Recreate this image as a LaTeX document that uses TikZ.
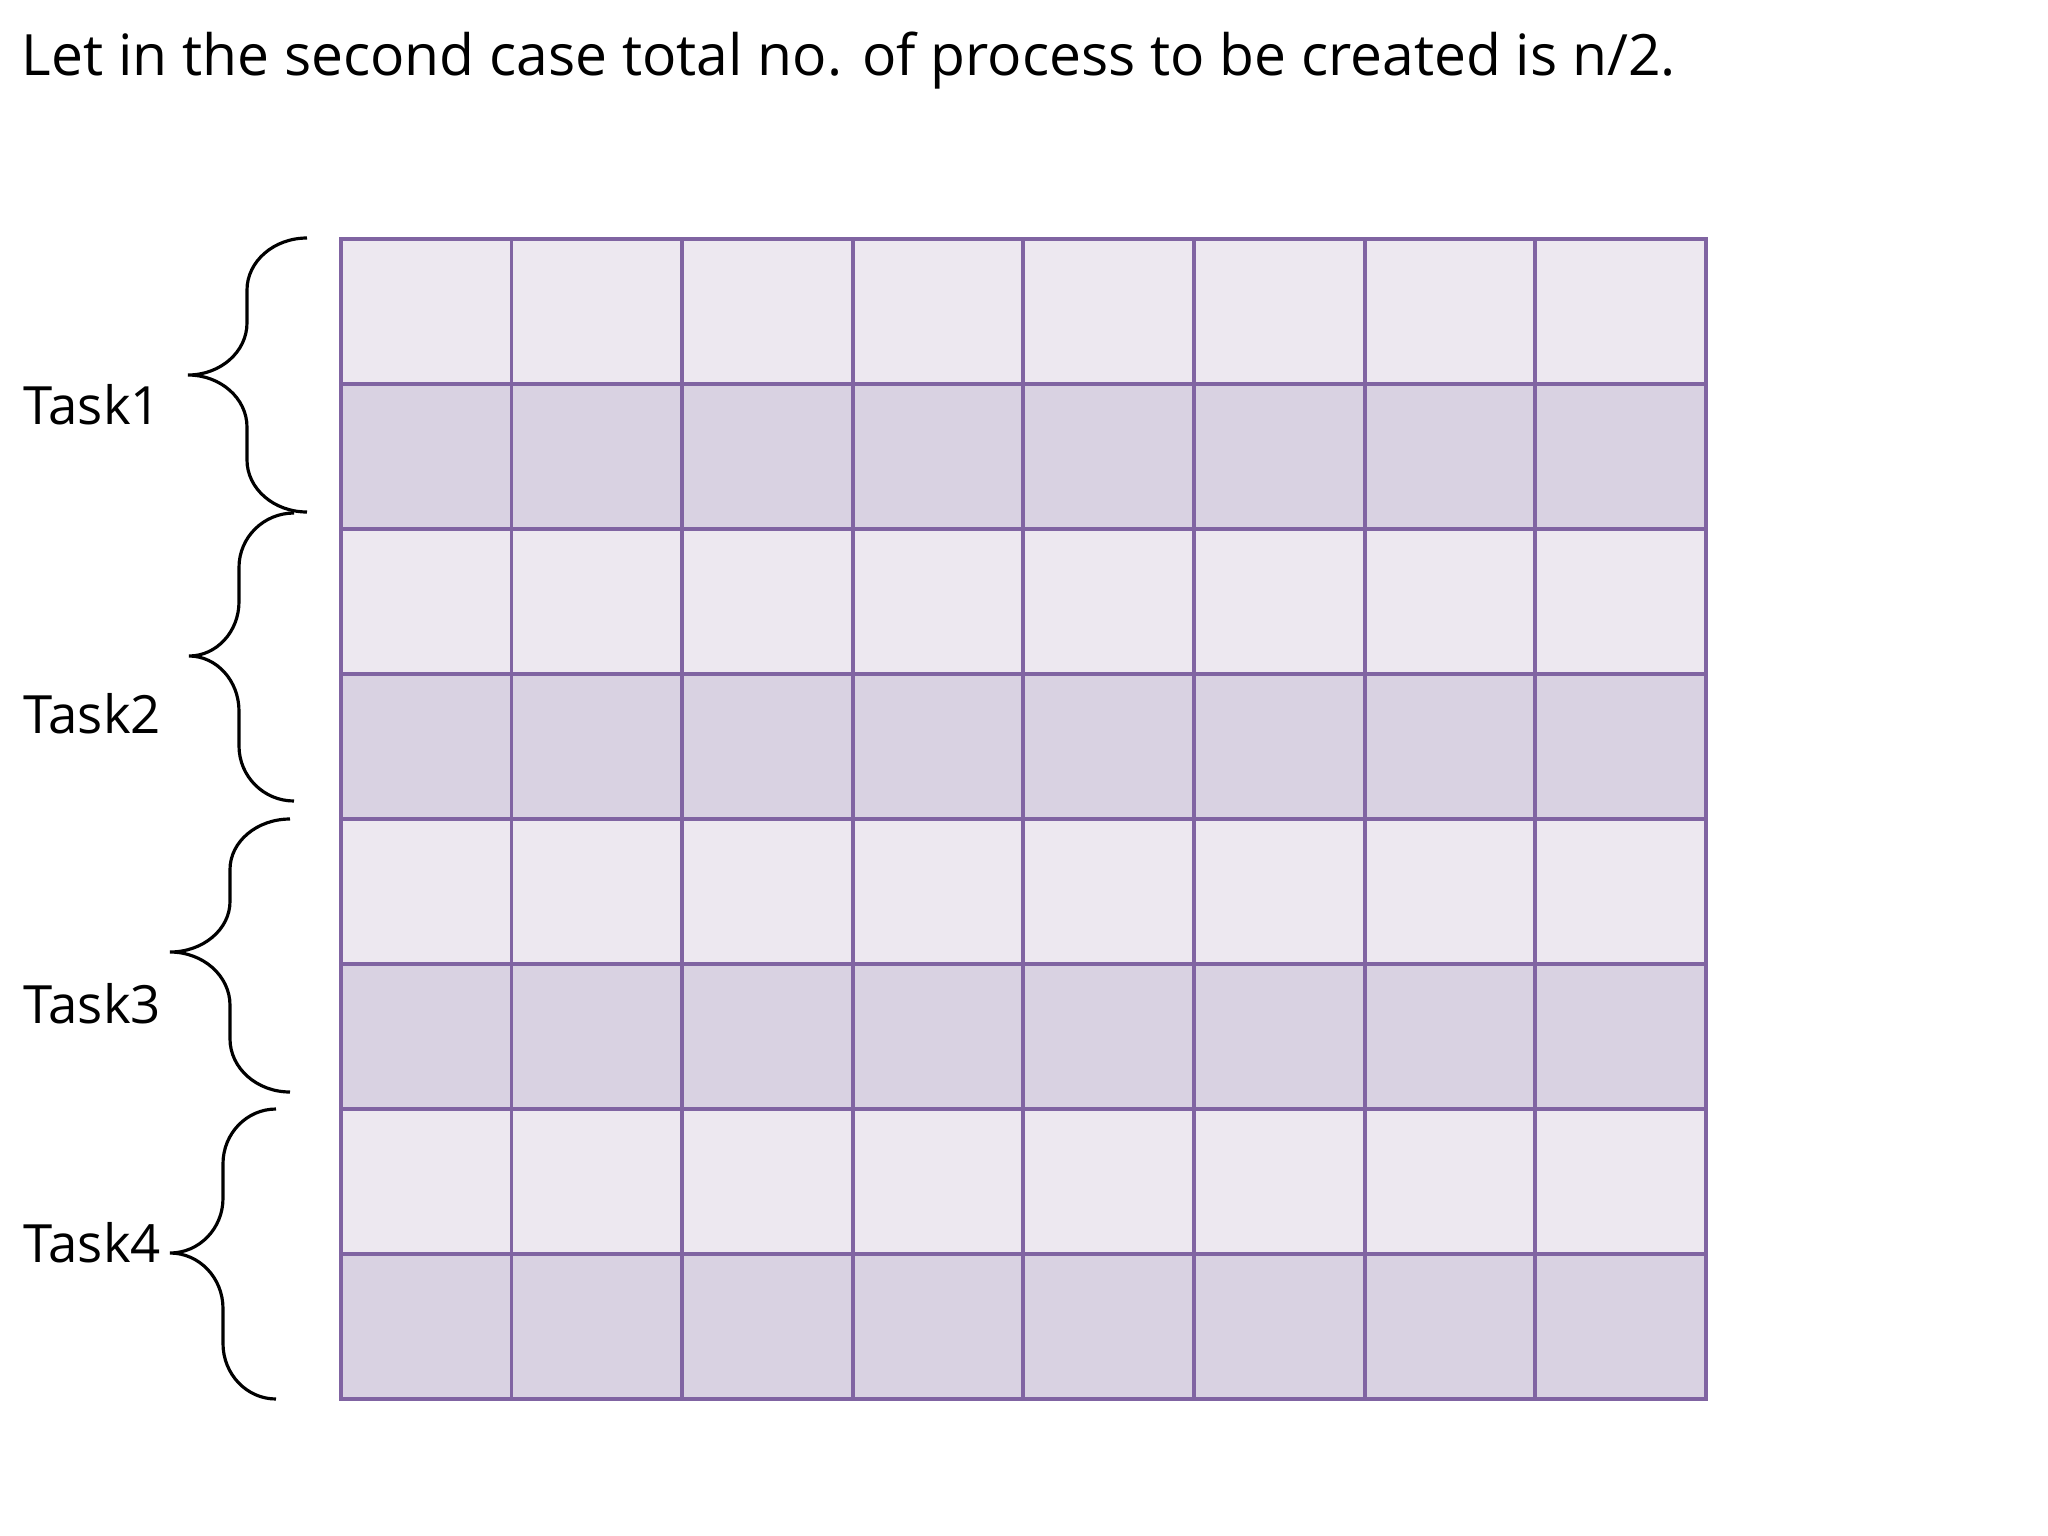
\documentclass[tikz,border=0pt]{standalone}
\usepackage{fontspec}
\setmainfont{Open Sans}
\usepackage{tikz}
\usetikzlibrary{calc, positioning}
\definecolor{gridpurple}{RGB}{128, 100, 162}
\definecolor{lightcell}{RGB}{237, 232, 240}
\definecolor{darkcell}{RGB}{217, 210, 226}
\tikzset{
    cellnode/.style = {draw=gridpurple, line width=1.1pt, rectangle, inner sep=0em, outer sep=0em,
      minimum width=1.706cm, minimum height=1.45cm},
    textnode/.style = {draw=none, fill=none, rectangle, inner sep=0em, font=\fontsize{15}{17}\selectfont},
    titlenode/.style = {draw=none, fill=none, rectangle, inner sep=0em, font=\fontsize{16.2}{19}\selectfont},
    bracestyle/.style = {black, line width=0.9pt}
}
% right end, stem, tip, top, middle, bottom
\newcommand{\curlybrace}[6]{%
  \pgfmathsetmacro{\hu}{0.38*(#5-#4)}
  \pgfmathsetmacro{\hl}{0.38*(#6-#5)}
  \draw[bracestyle] (#1,#4) .. controls ({#1-0.552*(#1-#2)},#4) and (#2,{#4+0.448*\hu}) .. (#2,{#4+\hu})
    -- (#2,{#5-\hu}) .. controls (#2,{#5-0.448*\hu}) and ({#3+0.552*(#2-#3)},#5) .. (#3,#5)
    .. controls ({#3+0.552*(#2-#3)},#5) and (#2,{#5+0.448*\hl}) .. (#2,{#5+\hl})
    -- (#2,{#6-\hl}) .. controls (#2,{#6-0.448*\hl}) and ({#1-0.552*(#1-#2)},#6) .. (#1,#6);
}

\begin{document}
\begin{tikzpicture}[x=0.01cm, y=-0.01cm]
\useasboundingbox[fill=white] (0,0) rectangle (2048,1536);

\node [name=title, titlenode, anchor=base west] at (21,75) {Let in the second case total no. of process to be created is n/2.};

% the grid, light and dark rows
\foreach \r in {0,...,7} {
  \foreach \c in {0,...,7} {
    \pgfmathsetmacro{\shade}{ifthenelse(mod(\r,2)==0,1,0)}
    \ifdim\shade pt>0pt
      \node [name=cell-\r-\c, cellnode, fill=lightcell] at ({341+170.6*(\c+0.5)},{239+145*(\r+0.5)}) {};
    \else
      \node [name=cell-\r-\c, cellnode, fill=darkcell] at ({341+170.6*(\c+0.5)},{239+145*(\r+0.5)}) {};
    \fi
  }
}

% braces
\curlybrace{307}{247}{188}{238}{375}{512}
\curlybrace{294}{239}{189}{513}{656}{801}
\curlybrace{290}{230}{170}{819}{952}{1092}
\curlybrace{276}{223}{170}{1109}{1253}{1399}

\node [name=task1, textnode, anchor=base west] at (23,424) {Task1};
\node [name=task2, textnode, anchor=base west] at (23,733) {Task2};
\node [name=task3, textnode, anchor=base west] at (23,1023) {Task3};
\node [name=task4, textnode, anchor=base west] at (23,1262) {Task4};
\end{tikzpicture}
\end{document}
